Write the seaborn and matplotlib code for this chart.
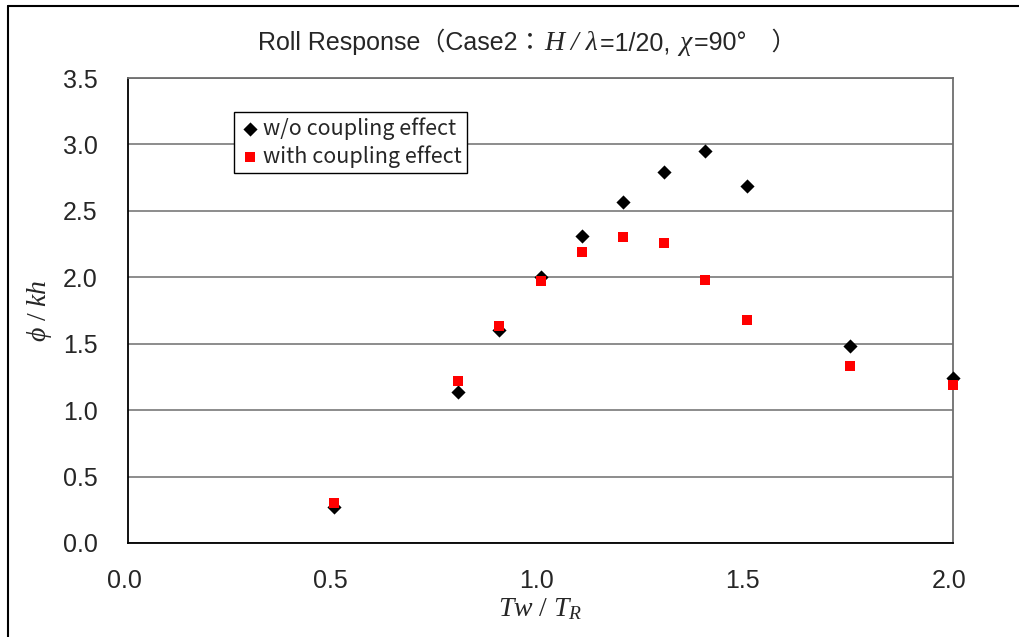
import matplotlib
matplotlib.use("Agg")
import matplotlib.pyplot as plt
import matplotlib.transforms as mtransforms
from matplotlib.lines import Line2D
import numpy as np
import pandas as pd
import seaborn as sns

# Wave period ratio and normalised roll amplitude
period_ratio = [0.5, 0.8, 0.9, 1.0, 1.1, 1.2, 1.3, 1.4, 1.5, 1.75, 2.0]
roll_without = [0.27, 1.14, 1.60, 2.00, 2.31, 2.57, 2.79, 2.95, 2.69, 1.48, 1.24]
roll_with = [0.30, 1.22, 1.63, 1.97, 2.19, 2.30, 2.26, 1.98, 1.68, 1.33, 1.19]
series_names = ["w/o coupling effect", "with coupling effect"]
x_ticks = [0.0, 0.5, 1.0, 1.5, 2.0]
y_ticks = [0.0, 0.5, 1.0, 1.5, 2.0, 2.5, 3.0, 3.5]
title_parts = [
    ("Roll Response（Case2：", "sans"),
    ("H / λ", "serif"),
    ("=1/20, ", "sans"),
    ("χ", "serif"),
    ("=90°　）", "sans"),
]

sns.set_theme(style="white")
sans_family = ["Liberation Sans", "Noto Sans CJK JP", "DejaVu Sans"]
plt.rcParams["font.family"] = sans_family
plt.rcParams["mathtext.fontset"] = "custom"
plt.rcParams["mathtext.rm"] = "Liberation Serif"
plt.rcParams["mathtext.it"] = "Liberation Serif:italic"
plt.rcParams["mathtext.bf"] = "Liberation Serif:bold"

df = pd.DataFrame({
    "ratio": period_ratio * 2,
    "roll": roll_without + roll_with,
    "series": [series_names[0]] * len(period_ratio) + [series_names[1]] * len(period_ratio),
})

fig = plt.figure(figsize=(10.19, 6.37), dpi=100)
ax = fig.add_axes([128 / 1019, 94 / 637, 825 / 1019, 465 / 637])

sns.scatterplot(data=df[df.series == series_names[0]], x="ratio", y="roll",
                marker="D", color="black", s=52, linewidth=0, ax=ax,
                label=series_names[0], zorder=3, clip_on=False)
sns.scatterplot(data=df[df.series == series_names[1]], x="ratio", y="roll",
                marker="s", color="#ff0000", s=60, linewidth=0, ax=ax,
                label=series_names[1], zorder=4, clip_on=False)

ax.set_xlim(0, 2.0)
ax.set_ylim(0, 3.5)
ax.set_xticks(x_ticks)
ax.set_yticks(y_ticks)
ax.set_xticklabels([f"{v:.1f}" for v in x_ticks])
ax.set_yticklabels([f"{v:.1f}" for v in y_ticks])
ax.yaxis.grid(True, color="#6e6e6e", linewidth=1.1)
ax.xaxis.grid(False)
ax.set_axisbelow(True)

ax.tick_params(axis="x", direction="in", length=7, width=1.2, color="black",
               pad=19, labelsize=18)
ax.tick_params(axis="y", length=0, pad=22, labelsize=18)
shift = mtransforms.ScaledTranslation(-4 / 100, 0, fig.dpi_scale_trans)
for lab in ax.get_xticklabels():
    lab.set_transform(lab.get_transform() + shift)

for side in ("left", "bottom"):
    ax.spines[side].set_color("black")
    ax.spines[side].set_linewidth(1.3)
for side in ("top", "right"):
    ax.spines[side].set_color("#6e6e6e")
    ax.spines[side].set_linewidth(1.3)

ax.set_xlabel(r"$Tw\ /\ T_R$", fontsize=20, labelpad=2)
ax.set_ylabel(r"$\phi\ /\ kh$", fontsize=20, labelpad=6)

leg = ax.legend(loc="upper left", bbox_to_anchor=(106 / 825, 431 / 465),
                borderaxespad=0, frameon=True, fancybox=False, framealpha=1,
                edgecolor="black", handletextpad=0.1, handlelength=1.0,
                borderpad=0.25, labelspacing=0.25, markerscale=1.0,
                prop={"family": ["Noto Sans CJK JP"], "size": 15.5})
leg.get_frame().set_linewidth(1.0)

# title assembled from upright sans and italic serif pieces
renderer = fig.canvas.get_renderer()
x_px = 258
y_fig = 1 - 50 / 637
for text, kind in title_parts:
    if kind == "serif":
        t = fig.text(x_px / 1019, y_fig, text, fontsize=20, ha="left", va="baseline",
                     family=["Liberation Serif"], style="italic")
    else:
        t = fig.text(x_px / 1019, y_fig, text, fontsize=18, ha="left", va="baseline",
                     family=sans_family)
    bb = t.get_window_extent(renderer=renderer)
    x_px += bb.width + 2

# outer frame of the figure
fig.add_artist(Line2D([8 / 1019, 8 / 1019], [-0.05, 1 - 6 / 637],
                      transform=fig.transFigure, color="black", linewidth=1.5))
fig.add_artist(Line2D([8 / 1019, 1.05], [1 - 6 / 637, 1 - 6 / 637],
                      transform=fig.transFigure, color="black", linewidth=1.5))

fig.savefig("out.png", dpi=100)
